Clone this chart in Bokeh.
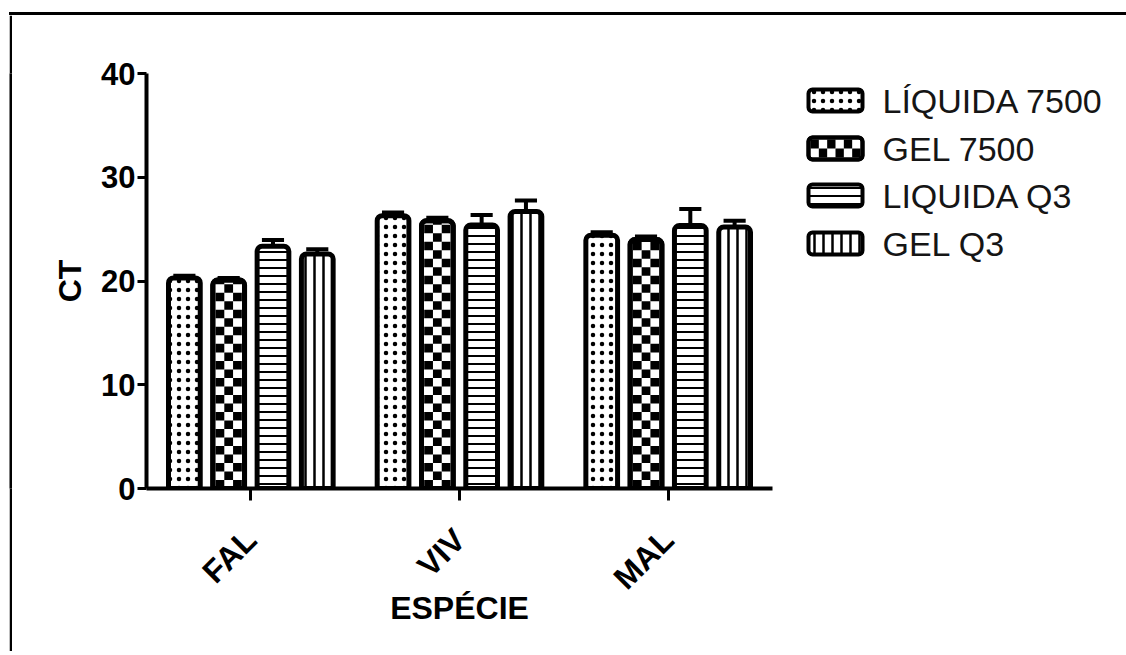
from math import pi, ceil

from bokeh.plotting import figure
from bokeh.models import FactorRange, ColumnDataSource, FixedTicker, Range1d, Spacer
from bokeh.layouts import column, row
from bokeh.transform import dodge
from bokeh.core.properties import value
from bokeh.embed import file_html
from bokeh.resources import INLINE

# ---------------- data ----------------
species = ["FAL", "VIV", "MAL"]
series = ["LÍQUIDA 7500", "GEL 7500", "LIQUIDA Q3", "GEL Q3"]
liquida_7500 = [20.3, 26.3, 24.4]
gel_7500 = [20.1, 25.8, 24.0]
liquida_q3 = [23.35, 25.4, 25.35]
gel_q3 = [22.6, 26.7, 25.2]
err_liquida_7500 = [0.2, 0.3, 0.3]
err_gel_7500 = [0.2, 0.3, 0.3]
err_liquida_q3 = [0.6, 0.95, 1.6]
err_gel_q3 = [0.45, 1.05, 0.6]
y_ticks = [0, 10, 20, 30, 40]

values = [liquida_7500, gel_7500, liquida_q3, gel_q3]
errors = [err_liquida_7500, err_gel_7500, err_liquida_q3, err_gel_q3]

# ---------------- style ----------------
FONT = "Liberation Sans"
H = 636
MAIN_W = 761
LEG_W = 337
PAD_R = 16
FRAME_TOP = 58
FRAME_BOTTOM = 473
FRAME_H = FRAME_BOTTOM - FRAME_TOP
pitch = 0.2123
offsets = [-1.5 * pitch, -0.5 * pitch, 0.5 * pitch, 1.5 * pitch]
bar_w = 0.152
cap_half = 0.053
cell_w = 0.042
cell_h = 0.82
CHECKER = 1

hatches = [
    dict(hatch_pattern="dot", hatch_scale=9, hatch_weight=2.6),
    dict(),
    dict(hatch_pattern="horizontal_line", hatch_scale=8, hatch_weight=2),
    dict(hatch_pattern="vertical_line", hatch_scale=9, hatch_weight=2.5),
]

data = dict(species=species)
for i in range(4):
    data[f"v{i}"] = values[i]
    data[f"hi{i}"] = [v + e for v, e in zip(values[i], errors[i])]
src = ColumnDataSource(data)

p = figure(x_range=FactorRange(factors=species, range_padding=0),
           y_range=(0, 40),
           width=MAIN_W, height=H,
           min_border_left=134, min_border_right=1,
           min_border_top=FRAME_TOP, min_border_bottom=H - FRAME_BOTTOM,
           output_backend="svg", toolbar_location=None)

for i in range(4):
    off = offsets[i]
    xs = dodge("species", off, range=p.x_range)
    p.vbar(x=xs, top=f"v{i}", bottom=0, width=bar_w, source=src,
           fill_color="white", line_color="black", line_width=5,
           hatch_color="black", border_radius=(5, 5, 0, 0), **hatches[i])
    if i == CHECKER:
        for c, coff in enumerate([-cell_w, 0.0, cell_w]):
            sp, bots, tops = [], [], []
            for s, v in zip(species, values[i]):
                for r in range(ceil(v / cell_h)):
                    if (r + c) % 2 == 0:
                        sp.append(s)
                        bots.append(r * cell_h)
                        tops.append(min((r + 1) * cell_h, v))
            p.vbar(x=dodge("sp", off + coff, range=p.x_range), bottom="b", top="t",
                   width=cell_w, source=ColumnDataSource(dict(sp=sp, b=bots, t=tops)),
                   fill_color="black", line_color=None)
        p.vbar(x=xs, top=f"v{i}", bottom=0, width=bar_w, source=src,
               fill_color=None, line_color="black", line_width=5,
               border_radius=(5, 5, 0, 0))
    p.segment(x0=xs, x1=xs, y0=f"v{i}", y1=f"hi{i}", source=src,
              line_color="black", line_width=4)
    p.segment(x0=dodge("species", off - cap_half, range=p.x_range),
              x1=dodge("species", off + cap_half, range=p.x_range),
              y0=f"hi{i}", y1=f"hi{i}", source=src,
              line_color="black", line_width=4)

p.xgrid.visible = False
p.ygrid.visible = False
p.outline_line_color = None
p.background_fill_color = "white"
p.border_fill_color = "white"

for ax in (p.xaxis[0], p.yaxis[0]):
    ax.axis_line_width = 4
    ax.axis_line_color = "black"
    ax.major_tick_line_width = 3
    ax.major_tick_line_color = "black"
    ax.major_tick_in = 0
    ax.minor_tick_line_color = None
    ax.major_label_text_font = FONT
    ax.major_label_text_font_style = "bold"
    ax.major_label_text_color = "black"
    ax.axis_label_text_font = FONT
    ax.axis_label_text_font_style = "bold"
    ax.axis_label_text_font_size = "32px"
    ax.axis_label_text_color = "black"

p.yaxis.ticker = FixedTicker(ticks=y_ticks)
p.yaxis.axis_label = "CT"
p.yaxis.major_tick_out = 9
p.yaxis.major_label_text_font_size = "31px"
p.yaxis.major_label_standoff = 2
p.yaxis.axis_label_standoff = 10

p.xaxis.axis_label = "ESPÉCIE"
p.xaxis.major_tick_out = 12
p.xaxis.major_label_orientation = pi / 4
p.xaxis.major_label_text_font_size = "32px"
p.xaxis.major_label_standoff = 34
p.xaxis.axis_label_standoff = -22

# ---------------- legend ----------------
leg_box_left = 35
leg_box_w = 54
leg_box_h = 22
leg_text_x = 109
leg_row_y = [FRAME_H - 27, FRAME_H - 75, FRAME_H - 122, FRAME_H - 170]

pl = figure(x_range=Range1d(0, LEG_W), y_range=Range1d(0, FRAME_H),
            width=LEG_W, height=H, min_border_left=0, min_border_right=0,
            min_border_top=FRAME_TOP, min_border_bottom=H - FRAME_BOTTOM,
            x_axis_type=None, y_axis_type=None,
            output_backend="svg", toolbar_location=None)
pl.outline_line_color = None
pl.background_fill_color = "white"
pl.border_fill_color = "white"

leg_src = ColumnDataSource(dict(
    label=series,
    left=[leg_box_left] * 4, right=[leg_box_left + leg_box_w] * 4,
    bottom=[y - leg_box_h / 2 for y in leg_row_y],
    top=[y + leg_box_h / 2 for y in leg_row_y],
    tx=[leg_text_x] * 4, ty=leg_row_y))
for i in range(4):
    view_src = ColumnDataSource({k: [v[i]] for k, v in leg_src.data.items()})
    pl.quad(left="left", right="right", bottom="bottom", top="top", source=view_src,
            fill_color="white", line_color="black", line_width=4,
            hatch_color="black", border_radius=4, **hatches[i])
    if i == CHECKER:
        cw = (leg_box_w - 4) / 6
        chh = (leg_box_h - 4) / 2
        cl, cr, cb, ct = [], [], [], []
        for rr in range(2):
            for cc in range(6):
                if (rr + cc) % 2 == 1:
                    x0 = leg_box_left + 2 + cc * cw
                    y0 = leg_row_y[i] - leg_box_h / 2 + 2 + rr * chh
                    cl.append(x0); cr.append(x0 + cw); cb.append(y0); ct.append(y0 + chh)
        pl.quad(left=cl, right=cr, bottom=cb, top=ct, fill_color="black", line_color=None)
        pl.quad(left="left", right="right", bottom="bottom", top="top", source=view_src,
                fill_color=None, line_color="black", line_width=4, border_radius=4)
pl.text(x="tx", y="ty", text="label", source=leg_src,
        text_font=value(FONT), text_font_size="34px", text_color="#151515",
        text_baseline="middle", text_align="left")


# ---------------- page frame lines ----------------
def rule(w, h):
    f = figure(width=w, height=h, min_border=0, x_axis_type=None, y_axis_type=None,
               output_backend="svg", toolbar_location=None)
    f.outline_line_color = None
    f.background_fill_color = "black"
    f.border_fill_color = "black"
    return f


layout = column(
    Spacer(width=9 + 3 + MAIN_W + LEG_W + PAD_R, height=12),
    row(Spacer(width=9, height=3),
        Spacer(width=3 + MAIN_W + LEG_W + PAD_R, height=3,
               styles={"background-color": "black"})),
    row(Spacer(width=9, height=H), rule(3, H), p, pl, Spacer(width=PAD_R, height=H)),
)

open("out.html", "w").write(file_html(layout, INLINE))
